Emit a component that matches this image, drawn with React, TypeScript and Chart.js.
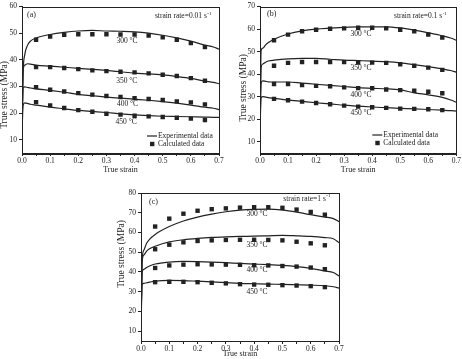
import React, { useEffect, useRef } from 'react';
import { Chart, registerables } from 'chart.js';

Chart.register(...registerables);

// ---------- data ----------
const EXP_STRAIN = [0, 0.004, 0.01, 0.02, 0.03, 0.05, 0.1, 0.15, 0.2, 0.25, 0.3, 0.35, 0.4, 0.45, 0.5, 0.55, 0.6, 0.65, 0.68, 0.7];
const CALC_STRAIN = [0.05, 0.1, 0.15, 0.2, 0.25, 0.3, 0.35, 0.4, 0.45, 0.5, 0.55, 0.6, 0.65];
const TEMPS = ['300 °C', '350 °C', '400 °C', '450 °C'];
const X_TICKS = [0, 0.05, 0.1, 0.15, 0.2, 0.25, 0.3, 0.35, 0.4, 0.45, 0.5, 0.55, 0.6, 0.65, 0.7];
const X_TITLE = 'True strain';
const Y_TITLE = 'True stress (MPa)';

// (a) strain rate 0.01 s-1
const A_EXP_300 = [12, 35, 42, 45.5, 47, 48.2, 49.5, 50.3, 50.8, 51, 50.8, 50.7, 50.5, 50, 49.2, 48.2, 47, 45.5, 44.8, 44];
const A_EXP_350 = [12, 36, 38, 38.5, 38.4, 38, 37.6, 37.2, 36.8, 36.4, 36, 35.5, 35, 34.7, 34.3, 33.7, 33, 32, 31.5, 31];
const A_EXP_400 = [12, 29.5, 29.8, 29.6, 29.4, 29.1, 28.5, 27.8, 27, 26.5, 26, 25.6, 25.2, 24.8, 24.3, 23.7, 23, 22.2, 21.8, 21.3];
const A_EXP_450 = [12, 23, 23.8, 23.6, 23.3, 23, 22.2, 21.6, 21, 20.6, 20.2, 19.7, 19.3, 19, 18.8, 18.7, 18.6, 18.5, 18.4, 18.4];
const A_CALC_300 = [47.5, 48.75, 49.4, 49.6, 49.6, 49.6, 49.5, 49.5, 49.1, 48.4, 47.5, 46.25, 44.75];
const A_CALC_350 = [37.25, 37.25, 36.9, 36.5, 36, 35.75, 35.5, 35.25, 34.9, 34.4, 33.9, 33.1, 32.1];
const A_CALC_400 = [29.75, 28.75, 28.1, 27.5, 26.9, 26.4, 26, 25.6, 25.25, 24.9, 24.4, 24, 23.25];
const A_CALC_450 = [24.1, 22.9, 21.9, 21.1, 20.5, 19.75, 19.4, 19, 18.75, 18.5, 18.25, 17.9, 17.4];
const A_Y_TICKS = [10, 20, 30, 40, 50, 60];

// (b) strain rate 0.1 s-1
const B_EXP_300 = [15, 50.5, 51.5, 53, 54, 55.5, 57.8, 59.2, 60, 60.4, 60.7, 61, 61, 61, 60.5, 59.5, 58.3, 57, 56, 55];
const B_EXP_350 = [15, 43, 44.5, 45.3, 45.8, 46.2, 46.8, 47, 47, 46.6, 46.2, 46, 45.8, 45.5, 45, 44.2, 43.3, 42.3, 41.6, 40.8];
const B_EXP_400 = [15, 36, 37, 36.8, 36.6, 36.5, 36.5, 36, 35.5, 35, 34.5, 34, 33.7, 33.5, 33, 31.7, 30.8, 29.7, 28.5, 27.5];
const B_EXP_450 = [15, 29.5, 30, 29.8, 29.6, 29.2, 28.5, 27.9, 27.3, 26.8, 26.2, 25.8, 25.4, 25.1, 24.8, 24.6, 24.3, 24, 23.8, 23.6];
const B_CALC_300 = [55, 57.5, 59, 59.7, 60.1, 60.3, 60.6, 60.6, 60.3, 59.7, 59, 57.6, 56.2];
const B_CALC_350 = [43.7, 45, 45.4, 45.4, 45.4, 45.3, 45.1, 45.1, 45, 44.4, 43.7, 42.9, 41.9];
const B_CALC_400 = [35.6, 35.6, 35.1, 34.8, 34.6, 34.1, 33.8, 33.7, 33.2, 32.9, 32.6, 32.2, 31.5];
const B_CALC_450 = [29, 28.4, 27.8, 27.2, 26.6, 26, 25.6, 25.3, 25, 24.7, 24.6, 24.4, 24];
const B_Y_TICKS = [10, 20, 30, 40, 50, 60, 70];

// (c) strain rate 1 s-1
const C_EXP_300 = [10, 46, 51, 54.5, 56.5, 59, 63, 65.8, 67.8, 69.3, 70.5, 71.3, 71.7, 71.8, 71.3, 70.3, 69, 67.8, 67, 65.5];
const C_EXP_350 = [10, 45, 48.5, 50.5, 51.7, 53, 55.2, 56.3, 57, 57.5, 57.8, 58, 58.1, 58.3, 58.5, 58.3, 58, 57.4, 56.8, 54.8];
const C_EXP_400 = [10, 40, 41.3, 42.3, 43, 44, 45, 45.3, 45.2, 45, 44.7, 44.3, 44, 43.7, 43.3, 42.7, 41.8, 40.5, 39.7, 38];
const C_EXP_450 = [10, 33.8, 34.2, 34.5, 34.8, 35.3, 35.7, 35.6, 35.3, 35, 34.6, 34.2, 34, 33.8, 33.7, 33.5, 33.3, 33, 32.5, 31.8];
const C_CALC_300 = [63, 67, 69.5, 71, 71.8, 72.2, 72.6, 72.8, 72.8, 72.5, 71.6, 70.4, 69];
const C_CALC_350 = [51.5, 53.8, 55, 55.7, 56, 56.2, 56.3, 56.3, 56.2, 56, 55.3, 54.5, 53.5];
const C_CALC_400 = [42, 43.3, 43.7, 43.9, 43.8, 43.7, 43.6, 43.4, 43.3, 43, 42.7, 42.2, 41.4];
const C_CALC_450 = [34.8, 35, 35, 34.8, 34.5, 34.2, 33.8, 33.6, 33.5, 33.3, 33.1, 32.8, 32.3];
const C_Y_TICKS = [10, 20, 30, 40, 50, 60, 70, 80];

// ---------- styling ----------
const INK = '#222';
const SERIF = '"Liberation Serif", "Times New Roman", serif';

type Panel = {
  tag: string;
  rate: string;
  left: number; top: number; width: number; height: number;
  pad: { left: number; right: number; top: number };
  yWidth: number; xHeight: number;
  yMax: number; yTicks: number[];
  exp: number[][]; calc: number[][];
  labelPos: [number, number][];
  tagOff: [number, number];
  rateOff: [number, number];
  yTitlePos: [number, number];
  legend: null | { lineX: number; y1: number; y2: number };
};

const PANELS: Panel[] = [
  {
    tag: '(a)', rate: 'strain rate=0.01 s',
    left: 0, top: 0, width: 231, height: 175,
    pad: { left: 0, right: 12, top: 5 }, yWidth: 22, xHeight: 22,
    yMax: 60, yTicks: A_Y_TICKS,
    exp: [A_EXP_300, A_EXP_350, A_EXP_400, A_EXP_450],
    calc: [A_CALC_300, A_CALC_350, A_CALC_400, A_CALC_450],
    labelPos: [[0.373, 47], [0.372, 32.2], [0.375, 23.4], [0.37, 16.5]],
    tagOff: [5, 8], rateOff: [8, 10],
    yTitlePos: [4.5, 95],
    legend: { lineX: 72, y1: 17, y2: 9 },
  },
  {
    tag: '(b)', rate: 'strain rate=0.1 s',
    left: 231, top: 0, width: 231, height: 175,
    pad: { left: 7, right: 4, top: 5 }, yWidth: 22, xHeight: 22,
    yMax: 70, yTicks: B_Y_TICKS,
    exp: [B_EXP_300, B_EXP_350, B_EXP_400, B_EXP_450],
    calc: [B_CALC_300, B_CALC_350, B_CALC_400, B_CALC_450],
    labelPos: [[0.36, 57.7], [0.36, 42.5], [0.36, 30.6], [0.36, 22.7]],
    tagOff: [7, 7], rateOff: [10, 10],
    yTitlePos: [12, 88],
    legend: { lineX: 84, y1: 18, y2: 10 },
  },
  {
    tag: '(c)', rate: 'strain rate=1 s',
    left: 110, top: 180, width: 240, height: 179,
    pad: { left: 7, right: 11, top: 13 }, yWidth: 24, xHeight: 18,
    yMax: 80, yTicks: C_Y_TICKS,
    exp: [C_EXP_300, C_EXP_350, C_EXP_400, C_EXP_450],
    calc: [C_CALC_300, C_CALC_350, C_CALC_400, C_CALC_450],
    labelPos: [[0.41, 69.3], [0.41, 53.6], [0.41, 40.9], [0.41, 29.8]],
    tagOff: [8, 9], rateOff: [9, 6],
    yTitlePos: [11.7, 74],
    legend: null,
  },
];

const annotPlugin = {
  id: 'annot',
  afterDatasetsDraw(chart: any, _args: any, opts: any) {
    const p: Panel = opts.panel;
    const { ctx, chartArea: ca, scales } = chart;
    const xs = scales.x, ys = scales.y;
    ctx.save();
    // frame
    ctx.strokeStyle = INK;
    ctx.lineWidth = 1;
    ctx.strokeRect(Math.round(ca.left) + 0.5, Math.round(ca.top) + 0.5, Math.round(ca.right - ca.left), Math.round(ca.bottom - ca.top));
    ctx.fillStyle = INK;
    ctx.font = `7.5px ${SERIF}`;
    ctx.textBaseline = 'middle';
    // temperature labels
    ctx.textAlign = 'center';
    p.labelPos.forEach((pos, i) => {
      ctx.fillText(TEMPS[i], xs.getPixelForValue(pos[0]), ys.getPixelForValue(pos[1]));
    });
    // y-axis title (rotated)
    ctx.save();
    ctx.translate(p.yTitlePos[0], p.yTitlePos[1]);
    ctx.rotate(-Math.PI / 2);
    ctx.font = `9.5px ${SERIF}`;
    ctx.fillText(Y_TITLE, 0, 0);
    ctx.restore();
    // panel tag
    ctx.textAlign = 'left';
    ctx.font = `8px ${SERIF}`;
    ctx.fillText(p.tag, ca.left + p.tagOff[0], ca.top + p.tagOff[1]);
    // strain rate with superscript
    ctx.font = `7.5px ${SERIF}`;
    const w1 = ctx.measureText(p.rate).width;
    ctx.font = `5px ${SERIF}`;
    const w2 = ctx.measureText('-1').width;
    const rx = ca.right - p.rateOff[0] - w1 - w2;
    const ry = ca.top + p.rateOff[1];
    ctx.font = `7.5px ${SERIF}`;
    ctx.fillText(p.rate, rx, ry);
    ctx.font = `5px ${SERIF}`;
    ctx.fillText('-1', rx + w1 + 0.5, ry - 3);
    // legend
    if (p.legend) {
      const lx = ca.right - p.legend.lineX;
      const y1 = ca.bottom - p.legend.y1;
      const y2 = ca.bottom - p.legend.y2;
      ctx.lineWidth = 1.2;
      ctx.beginPath();
      ctx.moveTo(lx, y1);
      ctx.lineTo(lx + 10, y1);
      ctx.stroke();
      ctx.fillRect(lx + 3, y2 - 2.2, 4.4, 4.4);
      ctx.font = `7.5px ${SERIF}`;
      ctx.fillText('Experimental data', lx + 11, y1);
      ctx.fillText('Calculated data', lx + 11, y2);
    }
    ctx.restore();
  },
};

function buildConfig(p: Panel): any {
  const datasets: any[] = [];
  p.exp.forEach((arr) => {
    datasets.push({
      data: EXP_STRAIN.map((x, i) => ({ x, y: arr[i] })),
      showLine: true,
      borderColor: INK,
      borderWidth: 1.2,
      pointRadius: 0,
      cubicInterpolationMode: 'monotone',
      fill: false,
    });
  });
  p.calc.forEach((arr) => {
    datasets.push({
      data: CALC_STRAIN.map((x, i) => ({ x, y: arr[i] })),
      showLine: false,
      pointStyle: 'rect',
      pointRadius: 3.1,
      backgroundColor: INK,
      borderColor: INK,
      borderWidth: 0,
    });
  });
  const tickFont = { family: SERIF, size: 7.5 };
  return {
    type: 'scatter',
    data: { datasets },
    options: {
      animation: false,
      responsive: false,
      maintainAspectRatio: false,
      events: [],
      layout: { padding: { left: p.pad.left, right: p.pad.right, top: p.pad.top, bottom: 0 } },
      plugins: {
        legend: { display: false },
        tooltip: { enabled: false },
        annot: { panel: p },
      },
      scales: {
        x: {
          type: 'linear',
          min: 0,
          max: 0.7,
          afterBuildTicks: (s: any) => { s.ticks = X_TICKS.map((v) => ({ value: v })); },
          afterFit: (s: any) => { s.height = p.xHeight; },
          ticks: {
            autoSkip: false,
            maxRotation: 0,
            padding: 1,
            color: INK,
            font: tickFont,
            callback: (v: any) => (Math.round(Number(v) * 100) % 10 === 0 ? Number(v).toFixed(1) : ''),
          },
          grid: { drawOnChartArea: false, drawTicks: true, tickLength: 3, color: INK },
          border: { color: INK, width: 1 },
          title: { display: true, text: X_TITLE, color: INK, font: { family: SERIF, size: 8, lineHeight: 1.2 }, padding: 0 },
        },
        y: {
          type: 'linear',
          min: 5,
          max: p.yMax,
          afterBuildTicks: (s: any) => { s.ticks = p.yTicks.map((v) => ({ value: v })); },
          afterFit: (s: any) => { s.width = p.yWidth; },
          ticks: { padding: 2, color: INK, font: tickFont, callback: (v: any) => String(v) },
          grid: { drawOnChartArea: false, drawTicks: true, tickLength: 3, color: INK },
          border: { color: INK, width: 1 },
          title: { display: false },
        },
      },
    },
    plugins: [annotPlugin],
  };
}

function PanelChart({ p }: { p: Panel }) {
  const ref = useRef<HTMLCanvasElement | null>(null);
  useEffect(() => {
    if (!ref.current) return;
    const chart = new Chart(ref.current, buildConfig(p));
    return () => chart.destroy();
  }, [p]);
  return (
    <canvas
      ref={ref}
      width={p.width}
      height={p.height}
      style={{ position: 'absolute', left: p.left, top: p.top, width: p.width, height: p.height }}
    />
  );
}

export default function App() {
  return (
    <div style={{ position: 'fixed', left: 0, top: 0, width: 462, height: 359, background: '#fff', overflow: 'hidden' }}>
      {PANELS.map((p) => (
        <PanelChart key={p.tag} p={p} />
      ))}
    </div>
  );
}
